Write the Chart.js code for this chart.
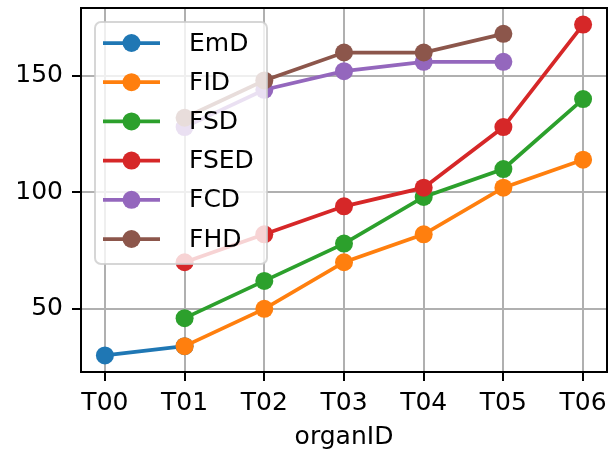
<!DOCTYPE html>
<html>
<head>
<meta charset="utf-8">
<script src="https://cdn.jsdelivr.net/npm/chart.js@4"></script>
<style>
html,body{margin:0;padding:0;background:#fff;}
#wrap{width:608px;height:452px;position:relative;}
</style>
</head>
<body>
<div id="wrap"><canvas id="c" width="608" height="452"></canvas></div>
<script>
const categories = ["T00","T01","T02","T03","T04","T05","T06"];
const seriesNames = ["EmD","FID","FSD","FSED","FCD","FHD"];
const EmD  = [30, 34, null, null, null, null, null];
const FID  = [null, 34, 50, 70, 82, 102, 114];
const FSD  = [null, 46, 62, 78, 98, 110, 140];
const FSED = [null, 70, 82, 94, 102, 128, 172];
const FCD  = [null, 128, 144, 152, 156, 156, null];
const FHD  = [null, 132, 148, 160, 160, 168, null];
const yTicks = [50, 100, 150];
const colors = ["#1f77b4","#ff7f0e","#2ca02c","#d62728","#9467bd","#8c564b"];
const allSeries = [EmD, FID, FSD, FSED, FCD, FHD];

const FONT = "DejaVu Sans";
const FS = 25;

const datasets = allSeries.map((vals, i) => ({
  label: seriesNames[i],
  data: vals.map((v, j) => ({x: j, y: v})).filter(p => p.y !== null),
  borderColor: colors[i],
  backgroundColor: colors[i],
  borderWidth: 3.75,
  pointRadius: 9,
  pointBorderWidth: 0,
  pointHoverRadius: 9,
  order: allSeries.length - i,
  tension: 0,
  clip: false
}));

function noPad(s) { s.paddingTop = 0; s.paddingBottom = 0; s.paddingLeft = 0; s.paddingRight = 0; }

const frameAndLegend = {
  id: 'frameAndLegend',
  afterDatasetsDraw(chart) {
    const ctx = chart.ctx;
    const a = chart.chartArea;
    ctx.save();
    ctx.strokeStyle = '#000';
    ctx.lineWidth = 2;
    ctx.strokeRect(a.left, a.top, a.right - a.left, a.bottom - a.top);
    const bx = 95, by = 22, bw = 172, bh = 242, r = 6;
    ctx.beginPath();
    ctx.moveTo(bx + r, by);
    ctx.arcTo(bx + bw, by, bx + bw, by + bh, r);
    ctx.arcTo(bx + bw, by + bh, bx, by + bh, r);
    ctx.arcTo(bx, by + bh, bx, by, r);
    ctx.arcTo(bx, by, bx + bw, by, r);
    ctx.closePath();
    ctx.fillStyle = 'rgba(255,255,255,0.8)';
    ctx.fill();
    ctx.strokeStyle = 'rgba(204,204,204,0.8)';
    ctx.lineWidth = 2;
    ctx.stroke();
    chart.data.datasets.forEach((ds, i) => {
      const y = 43 + i * 39.2;
      ctx.strokeStyle = ds.borderColor;
      ctx.lineWidth = 3.75;
      ctx.beginPath();
      ctx.moveTo(103, y);
      ctx.lineTo(160, y);
      ctx.stroke();
      ctx.fillStyle = ds.borderColor;
      ctx.beginPath();
      ctx.arc(131.5, y, 9, 0, Math.PI * 2);
      ctx.fill();
      ctx.fillStyle = '#000';
      ctx.font = FS + 'px "' + FONT + '"';
      ctx.textBaseline = 'middle';
      ctx.textAlign = 'left';
      ctx.fillText(ds.label, 189, y + 1);
    });
    ctx.restore();
  },
  afterDraw(chart) {
    // x category labels, placed through the x scale
    const ctx = chart.ctx;
    const xs = chart.scales.x;
    ctx.save();
    ctx.fillStyle = '#000';
    ctx.font = FS + 'px "' + FONT + '"';
    ctx.textAlign = 'center';
    ctx.textBaseline = 'alphabetic';
    categories.forEach((c, i) => {
      ctx.fillText(c, xs.getPixelForValue(i), chart.chartArea.bottom + 38);
    });
    ctx.restore();
  }
};

new Chart(document.getElementById('c'), {
  type: 'line',
  data: { datasets },
  options: {
    responsive: false,
    animation: false,
    devicePixelRatio: 1,
    layout: { autoPadding: false, padding: { left: 0, right: 1, top: 8, bottom: 0 } },
    plugins: { legend: { display: false }, tooltip: { enabled: false } },
    scales: {
      x: {
        type: 'linear',
        min: -0.3,
        max: 6.3,
        afterBuildTicks(s) { s.ticks = categories.map((c, i) => ({ value: i })); },
        afterFit(s) { s.height = 80; noPad(s); },
        ticks: {
          display: false,
          autoSkip: false,
          maxRotation: 0,
          padding: 6,
          color: '#000',
          font: { family: FONT, size: FS },
          callback: (v) => categories[v]
        },
        grid: { color: '#b0b0b0', lineWidth: 2, tickColor: '#000', tickLength: 9, tickWidth: 2, drawTicks: true },
        border: { color: '#000', width: 2 },
        title: { display: true, text: 'organID', color: '#000', font: { family: FONT, size: FS }, padding: { top: 0, bottom: 0 } }
      },
      y: {
        type: 'linear',
        min: 22.9,
        max: 179.1,
        afterBuildTicks(s) { s.ticks = yTicks.map(v => ({ value: v })); },
        afterFit(s) { s.width = 81; noPad(s); },
        ticks: {
          padding: 9,
          color: '#000',
          font: { family: FONT, size: FS }
        },
        grid: { color: '#b0b0b0', lineWidth: 2, tickColor: '#000', tickLength: 9, tickWidth: 2 },
        border: { color: '#000', width: 2 }
      }
    }
  },
  plugins: [frameAndLegend]
});
</script>
</body>
</html>
